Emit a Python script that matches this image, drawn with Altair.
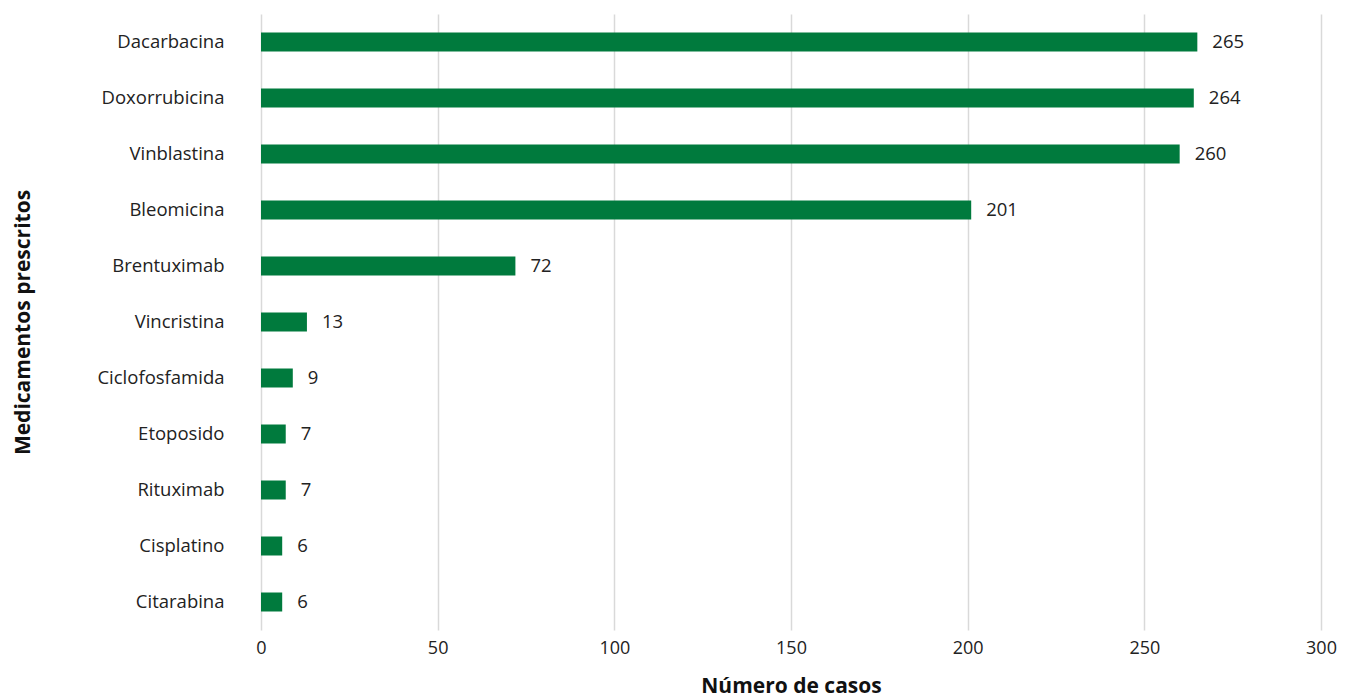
import altair as alt
import pandas as pd

drugs = ["Dacarbacina", "Doxorrubicina", "Vinblastina", "Bleomicina", "Brentuximab",
         "Vincristina", "Ciclofosfamida", "Etoposido", "Rituximab", "Cisplatino", "Citarabina"]
cases = [265, 264, 260, 201, 72, 13, 9, 7, 7, 6, 6]

df = pd.DataFrame({"drug": drugs, "cases": cases})

FONT = "Open Sans"
GREEN = "#007A3D"

x = alt.X("cases:Q", title="Número de casos",
          scale=alt.Scale(domain=[0, 300], nice=False),
          axis=alt.Axis(values=[0, 50, 100, 150, 200, 250, 300], grid=True, gridColor="#d9d9d9",
                        gridWidth=1.5, domain=False, ticks=False, labelFontSize=18,
                        labelFlush=False,
                        labelColor="#222", labelFont=FONT, labelPadding=9,
                        titleFont=FONT, titleFontSize=21, titleFontWeight="bold",
                        titleColor="#111", titlePadding=18))
y = alt.Y("drug:N", title="Medicamentos prescritos", sort=drugs,
          scale=alt.Scale(paddingInner=0.66, paddingOuter=0.33),
          axis=alt.Axis(domain=False, ticks=False, labelFontSize=18.5, labelColor="#222",
                        labelFont=FONT, labelPadding=37, titleFont=FONT, titleFontSize=21,
                        titleFontWeight="bold", titleColor="#111", titlePadding=63))

bars = alt.Chart(df).mark_bar(color=GREEN, size=19).encode(x=x, y=y)
labels = alt.Chart(df).mark_text(align="left", baseline="middle", dx=15, fontSize=18.5,
                                 font=FONT, color="#222").encode(
    x=alt.X("cases:Q"), y=alt.Y("drug:N", sort=drugs), text="cases:Q")

chart = (bars + labels).properties(
    width=1060, height=616,
    autosize=alt.AutoSizeParams(type="none"),
    padding={"left": 253, "top": 6, "right": 16, "bottom": 68},
).configure_view(stroke=None)

chart.save("out.html", embed_options={"renderer": "svg", "actions": False})
